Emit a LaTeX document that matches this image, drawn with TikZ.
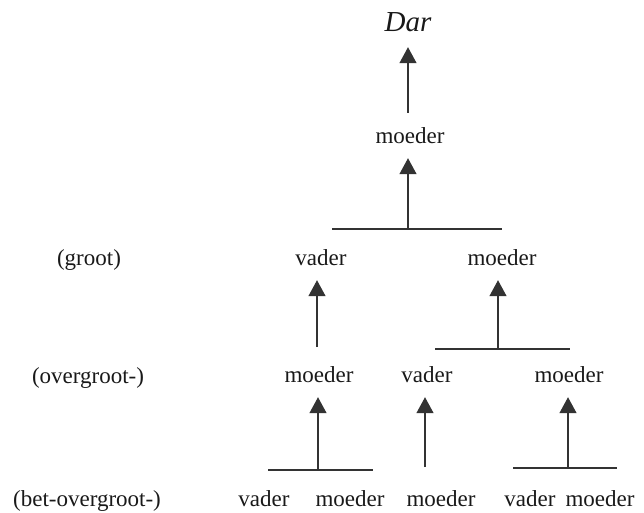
\documentclass[tikz,border=0pt]{standalone}
\usepackage{fontspec}
\setmainfont{Liberation Serif}
\usetikzlibrary{arrows.meta}
\begin{document}
\begin{tikzpicture}[x=1pt,y=-1pt,
  lbl/.style={anchor=base,inner sep=0pt,text depth=0pt,font=\fontsize{23}{26}\selectfont,text=black!90},
  arr/.style={draw=black!80,line width=1.4pt,-{Triangle[width=17pt,length=16pt]},shorten >=15pt},
  barline/.style={draw=black!80,line width=1.4pt}]
\useasboundingbox (0,0) rectangle (644,513);
% texts
\node[lbl,font=\fontsize{29}{32}\selectfont\itshape] (dar) at (408,32) {Dar};
\node[lbl] (m1) at (410,143) {moeder};
\node[lbl] (g) at (89,265) {(groot)};
\node[lbl] (v2) at (321,265) {vader};
\node[lbl] (m2) at (502,265) {moeder};
\node[lbl] (og) at (88,383) {(overgroot-)};
\node[lbl] (m3a) at (319,382) {moeder};
\node[lbl] (v3) at (427,382) {vader};
\node[lbl] (m3b) at (569,382) {moeder};
\node[lbl] (bog) at (87,506) {(bet-overgroot-)};
\node[lbl] (b1) at (264,506) {vader};
\node[lbl] (b2) at (350,506) {moeder};
\node[lbl] (b3) at (441,506) {moeder};
\node[lbl] (b4) at (530,506) {vader};
\node[lbl] (b5) at (600,506) {moeder};
% coordinates
\coordinate (s0) at (408,113);
\coordinate (bar1l) at (332,229);
\coordinate (bar1r) at (502,229);
\coordinate (s1) at (408,229);
\coordinate (s2) at (317,347);
\coordinate (bar2l) at (435,349);
\coordinate (bar2r) at (570,349);
\coordinate (s3) at (498,349);
\coordinate (bar3l) at (268,470);
\coordinate (bar3r) at (373,470);
\coordinate (s4) at (318,470);
\coordinate (s5) at (425,467);
\coordinate (bar4l) at (513,468);
\coordinate (bar4r) at (617,468);
\coordinate (s6) at (568,468);
% bars
\draw[barline] (bar1l) -- (bar1r);
\draw[barline] (bar2l) -- (bar2r);
\draw[barline] (bar3l) -- (bar3r);
\draw[barline] (bar4l) -- (bar4r);
% arrows
\draw[arr] (s0) -- (s0 |- dar.south);
\draw[arr] (s1) -- (s1 |- m1.south);
\draw[arr] (s2) -- (s2 |- v2.south);
\draw[arr] (s3) -- (s3 |- m2.south);
\draw[arr] (s4) -- (s4 |- m3a.south);
\draw[arr] (s5) -- (s5 |- v3.south);
\draw[arr] (s6) -- (s6 |- m3b.south);
\end{tikzpicture}
\end{document}
